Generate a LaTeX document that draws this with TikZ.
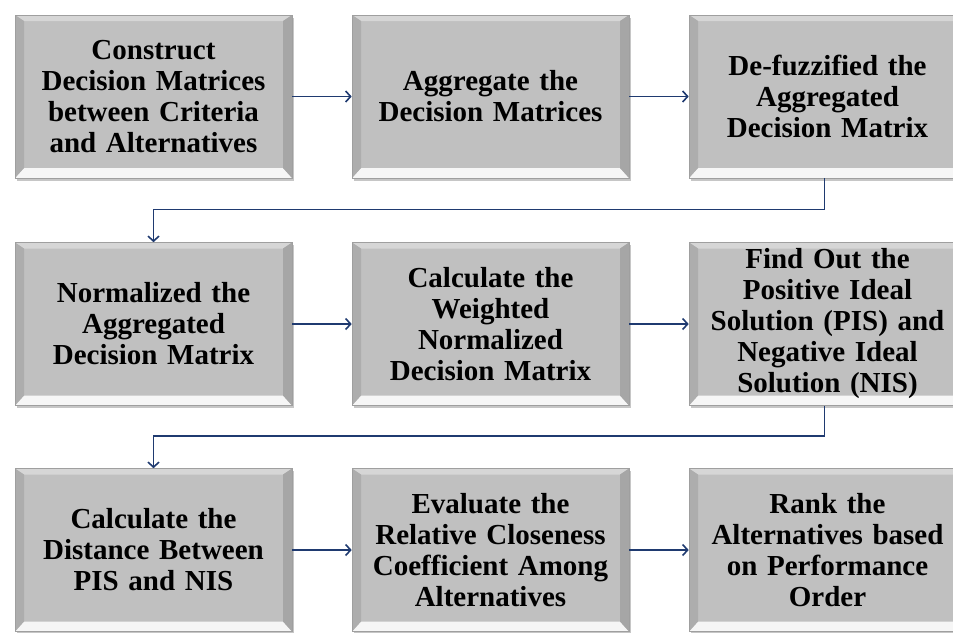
\documentclass[tikz,border=0pt]{standalone}
\usepackage{fontspec}
\setmainfont{Liberation Serif}
\usetikzlibrary{arrows.meta,positioning,shadows}
\definecolor{boxgray}{HTML}{C0C0C0}
\definecolor{bevtop}{HTML}{D6D6D6}
\definecolor{bevbottom}{HTML}{F6F6F6}
\definecolor{bevleft}{HTML}{ADADAD}
\definecolor{bevright}{HTML}{A6A6A6}
\definecolor{flowblue}{HTML}{1F3A70}

\begin{document}
\begin{tikzpicture}[->,>={Straight Barb[length=5pt,width=11pt]}]
\tikzstyle{stage}=[shape=rectangle,draw=gray!75,line width=0.6pt,fill=boxgray,
  minimum width=277pt,minimum height=163pt,text width=270pt,align=center,text=black,
  font=\bfseries\fontsize{29}{31}\selectfont,
  drop shadow={shadow xshift=2pt,shadow yshift=-2.5pt,opacity=0.45},
  path picture={
    \fill[-,bevtop] (path picture bounding box.north west) -- (path picture bounding box.north east)
      -- ([shift={(-9pt,-6pt)}]path picture bounding box.north east) -- ([shift={(9pt,-6pt)}]path picture bounding box.north west) -- cycle;
    \fill[-,bevbottom] (path picture bounding box.south west) -- (path picture bounding box.south east)
      -- ([shift={(-9pt,10pt)}]path picture bounding box.south east) -- ([shift={(9pt,10pt)}]path picture bounding box.south west) -- cycle;
    \fill[-,bevleft] (path picture bounding box.south west) -- (path picture bounding box.north west)
      -- ([shift={(9pt,-6pt)}]path picture bounding box.north west) -- ([shift={(9pt,10pt)}]path picture bounding box.south west) -- cycle;
    \fill[-,bevright] (path picture bounding box.south east) -- (path picture bounding box.north east)
      -- ([shift={(-9pt,-6pt)}]path picture bounding box.north east) -- ([shift={(-9pt,10pt)}]path picture bounding box.south east) -- cycle;
  }]
\tikzstyle{flow}=[draw=flowblue,line width=1.6pt]

\useasboundingbox (0,0) rectangle (953pt,-632pt);

\node[stage]        (A) at (153.5pt,-96.5pt) {Construct\\Decision Matrices\\between Criteria\\and Alternatives};
\node[stage]        (B) [right of=A,node distance=337pt] {Aggregate the\\Decision Matrices};
\node[stage]        (C) [right of=B,node distance=337pt] {De-fuzzified the\\Aggregated\\Decision Matrix};
\node[stage]        (D) [below of=A,node distance=227.5pt] {Normalized the\\Aggregated\\Decision Matrix};
\node[stage]        (E) [right of=D,node distance=337pt] {Calculate the\\Weighted\\Normalized\\Decision Matrix};
\node[stage]        (F) [right of=E,node distance=337pt] {Find Out the\\Positive Ideal\\Solution (PIS) and\\Negative Ideal\\Solution (NIS)};
\node[stage]        (G) [below of=D,node distance=226pt] {Calculate the\\Distance Between\\PIS and NIS};
\node[stage]        (H) [right of=G,node distance=337pt] {Evaluate the\\Relative Closeness\\Coefficient Among\\Alternatives};
\node[stage]        (I) [right of=H,node distance=337pt] {Rank the\\Alternatives based\\on Performance\\Order};

\path[flow]
(A) edge (B)
(B) edge (C)
(D) edge (E)
(E) edge (F)
(G) edge (H)
(H) edge (I)
;
\draw[flow] ([xshift=-3pt]C.south) -- ++(0,-31pt) -| (D.north);
\draw[flow] ([xshift=-3pt]F.south) -- ++(0,-30pt) -| (G.north);
\end{tikzpicture}
\end{document}
